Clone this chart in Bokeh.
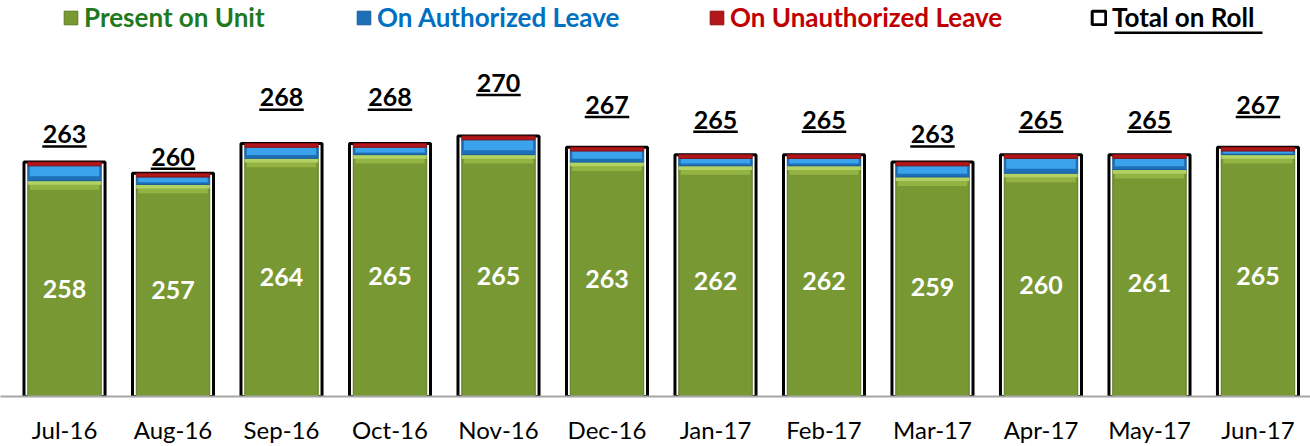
from bokeh.plotting import figure
from bokeh.models import (Range1d, FixedTicker, Legend, LegendItem, BoxAnnotation,
                          ColumnDataSource)
from bokeh.core.properties import value
from bokeh.embed import file_html
from bokeh.resources import INLINE

# ---------------- data ----------------
months = ["Jul-16", "Aug-16", "Sep-16", "Oct-16", "Nov-16", "Dec-16",
          "Jan-17", "Feb-17", "Mar-17", "Apr-17", "May-17", "Jun-17"]
present = [258, 257, 264, 265, 265, 263, 262, 262, 259, 260, 261, 265]
authorized = [4, 2, 3, 2, 4, 3, 2, 2, 3, 4, 3, 1]
unauthorized = [1, 1, 1, 1, 1, 1, 1, 1, 1, 1, 1, 1]
total = [263, 260, 268, 268, 270, 267, 265, 265, 263, 265, 265, 267]

# ---------------- derived ----------------
BASE = 200
x = list(range(len(months)))
auth_top = [p + a for p, a in zip(present, authorized)]
src = ColumnDataSource(dict(
    x=x, present=present, auth_top=auth_top, total=total,
    base=[BASE] * len(x),
    green_bevel=[p - 2.4 for p in present],
    green_bevel2=[p - 1.1 for p in present],
    blue_hi=[p + a * 0.3 for p, a in zip(present, authorized)],
    blue_hi_top=[t - 0.15 for t in auth_top],
    mid=[(BASE + p) / 2 for p in present],
    present_lbl=[str(v) for v in present],
    total_lbl=[str(v) for v in total],
    ul_y=[t - 1.65 for t in total],
    ul_x0=[i - 0.205 for i in x],
    ul_x1=[i + 0.205 for i in x],
))

FONT = value("Lato")

p = figure(width=1310, height=446,
           x_range=Range1d(-0.59, 11.484), y_range=Range1d(BASE, 306.43),
           output_backend="svg", toolbar_location=None, y_axis_location=None,
           min_border=0, min_border_bottom=49,
           outline_line_color=None, background_fill_color="white")
p.extra_y_ranges = {"lbl": Range1d(227.49, 281.14)}
p.xgrid.visible = False
p.ygrid.visible = False

# outline bar (total on roll)
r_total = p.vbar(x="x", bottom="base", top="total", width=0.747, source=src,
                 fill_color="white", line_color="black", line_width=3)
# present on unit
r_green = p.vbar(x="x", bottom="base", top="present", width=0.677, source=src,
                 fill_color="#789834", line_color="#5e7a24", line_width=1)
p.vbar(x="x", bottom="green_bevel", top="present", width=0.64, source=src,
       fill_color="#93b443", line_color=None)
p.vbar(x="x", bottom="green_bevel2", top="present", width=0.677, source=src,
       fill_color="#b3d264", line_color=None)
# authorized leave
r_blue = p.vbar(x="x", bottom="present", top="auth_top", width=0.677, source=src,
                fill_color="#1d6fb8", line_color="#1a5c99", line_width=1)
p.vbar(x="x", bottom="blue_hi", top="blue_hi_top", width=0.64, source=src,
       fill_color="#3aa3ec", line_color=None)
# unauthorized leave
r_red = p.vbar(x="x", bottom="auth_top", top="total", width=0.677, source=src,
               fill_color="#b3171c", line_color="#8a1010", line_width=1)

# labels inside green bars
p.text(x="x", y="mid", text="present_lbl", source=src, text_align="center",
       text_baseline="middle", text_color="white", text_font=FONT,
       text_font_style="bold", text_font_size="25px")
# total labels (secondary scale) with underline
p.text(x="x", y="total", text="total_lbl", source=src, text_align="center",
       text_baseline="middle", text_color="black", text_font=FONT,
       text_font_style="bold", text_font_size="25px", y_range_name="lbl")
p.segment(x0="ul_x0", x1="ul_x1", y0="ul_y", y1="ul_y", source=src,
          line_color="black", line_width=2.5, y_range_name="lbl")

# x axis
ax = p.xaxis[0]
ax.ticker = FixedTicker(ticks=x)
ax.major_label_overrides = {i: m for i, m in zip(x, months)}
ax.major_tick_line_color = None
ax.minor_tick_line_color = None
ax.axis_line_color = "#a6a6a6"
ax.axis_line_width = 2
ax.major_label_text_font = "Lato"
ax.major_label_text_font_size = "24px"
ax.major_label_text_color = "black"
ax.major_label_standoff = 12

# legends
def add_legend(label, renderer, color, xpos):
    leg = Legend(items=[LegendItem(label=label, renderers=[renderer])],
                 location=(xpos, 363), orientation="horizontal",
                 label_text_font="Lato", label_text_font_style="bold",
                 label_text_font_size="26px", label_text_color=color,
                 glyph_width=17, glyph_height=17, label_standoff=5,
                 padding=0, margin=0, border_line_alpha=0,
                 background_fill_alpha=0)
    p.add_layout(leg)

add_legend("Present on Unit", r_green, "#1f7a1f", 62)
add_legend("On Authorized Leave", r_blue, "#0070c0", 355)
add_legend("On Unauthorized Leave", r_red, "#c00000", 708)
add_legend("Total on Roll", r_total, "black", 1090)

# underline of "Total on Roll"
p.add_layout(BoxAnnotation(left=1114, right=1262, top=31, bottom=33.5,
                           left_units="canvas", right_units="canvas",
                           top_units="canvas", bottom_units="canvas",
                           fill_color="black", fill_alpha=1, line_color=None))

open("out.html", "w").write(file_html(p, INLINE))
